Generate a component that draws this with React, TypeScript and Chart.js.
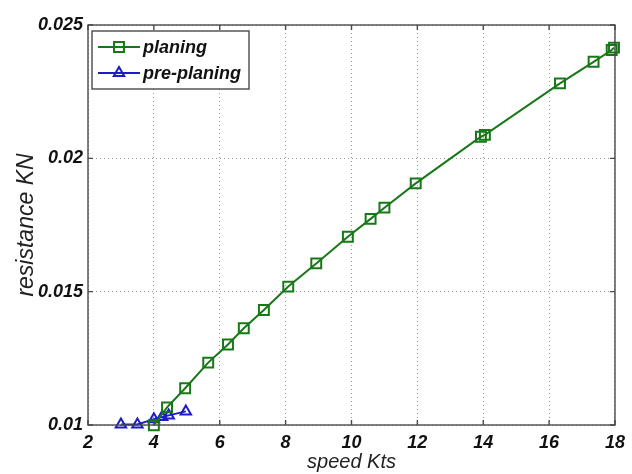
import React, { useEffect, useRef } from "react";
import { Chart, registerables } from "chart.js";

Chart.register(...registerables);

const xTicks = [2, 4, 6, 8, 10, 12, 14, 16, 18];
const yTicks = [0.01, 0.015, 0.02, 0.025];

const planingLabel = "planing";
const planingX = [4.0, 4.4, 4.95, 5.65, 6.25, 6.73, 7.34, 8.08, 8.93, 9.89, 10.58, 11.0, 11.95, 13.93, 14.05, 16.33, 17.35, 17.9, 17.97];
const planingY = [0.00999, 0.01066, 0.01138, 0.01234, 0.01302, 0.01363, 0.01431, 0.01519, 0.01606, 0.01706, 0.01773, 0.01815, 0.01906, 0.02081, 0.02088, 0.02281, 0.02362, 0.02406, 0.02415];

const prePlaningLabel = "pre-planing";
const prePlaningX = [3.0, 3.5, 4.0, 4.25, 4.45, 4.97];
const prePlaningY = [0.01002, 0.01002, 0.01022, 0.0103, 0.01036, 0.01051];

const GREEN = "#187818";
const BLUE = "#1c1cc8";
const FONT = "'Liberation Sans', Arial, sans-serif";

const framePlugin = {
  id: "matlabFrame",
  afterDraw(chart: any) {
    const { ctx, chartArea } = chart;
    const { left, right, top, bottom } = chartArea;
    ctx.save();
    ctx.strokeStyle = "#4a4a4a";
    ctx.lineWidth = 1.4;
    ctx.strokeRect(left, top, right - left, bottom - top);
    const xs = chart.scales.x;
    const ys = chart.scales.y;
    const tl = 5;
    ctx.beginPath();
    xTicks.forEach((v) => {
      const px = xs.getPixelForValue(v);
      ctx.moveTo(px, bottom);
      ctx.lineTo(px, bottom - tl);
      ctx.moveTo(px, top);
      ctx.lineTo(px, top + tl);
    });
    yTicks.forEach((v) => {
      const py = ys.getPixelForValue(v);
      ctx.moveTo(left, py);
      ctx.lineTo(left + tl, py);
      ctx.moveTo(right, py);
      ctx.lineTo(right - tl, py);
    });
    ctx.stroke();

    // legend
    const bx = left + 4;
    const by = top + 6;
    const bw = 157;
    const bh = 58;
    ctx.fillStyle = "#ffffff";
    ctx.fillRect(bx, by, bw, bh);
    ctx.strokeStyle = "#4a4a4a";
    ctx.lineWidth = 1.4;
    ctx.strokeRect(bx, by, bw, bh);
    chart.data.datasets.forEach((ds: any, i: number) => {
      const cy = by + 16 + i * 26;
      const x0 = bx + 6;
      const x1 = bx + 48;
      ctx.strokeStyle = ds.borderColor;
      ctx.lineWidth = ds.borderWidth;
      ctx.beginPath();
      ctx.moveTo(x0, cy);
      ctx.lineTo(x1, cy);
      ctx.stroke();
      ctx.lineWidth = ds.pointBorderWidth;
      const cx = (x0 + x1) / 2;
      ctx.beginPath();
      if (ds.pointStyle === "rect") {
        const s = ds.pointRadius * Math.SQRT1_2;
        ctx.rect(cx - s, cy - s, 2 * s, 2 * s);
      } else {
        const r = ds.pointRadius;
        ctx.moveTo(cx, cy - r);
        ctx.lineTo(cx + r * Math.cos(Math.PI / 6), cy + r / 2);
        ctx.lineTo(cx - r * Math.cos(Math.PI / 6), cy + r / 2);
        ctx.closePath();
      }
      ctx.stroke();
      ctx.fillStyle = "#111111";
      ctx.font = `italic bold 18px ${FONT}`;
      ctx.textBaseline = "middle";
      ctx.textAlign = "left";
      ctx.fillText(ds.label, x1 + 3, cy + 1);
    });
    ctx.restore();
  },
};

export default function App() {
  const ref = useRef<HTMLCanvasElement | null>(null);
  useEffect(() => {
    if (!ref.current) return;
    const chart = new Chart(ref.current, {
      type: "line",
      data: {
        datasets: [
          {
            label: planingLabel,
            data: planingX.map((x, i) => ({ x, y: planingY[i] })),
            borderColor: GREEN,
            borderWidth: 2,
            pointStyle: "rect",
            pointRadius: 7,
            pointBorderWidth: 2,
            pointBorderColor: GREEN,
            pointBackgroundColor: "rgba(0,0,0,0)",
            fill: false,
            tension: 0,
            clip: false as any,
          },
          {
            label: prePlaningLabel,
            data: prePlaningX.map((x, i) => ({ x, y: prePlaningY[i] })),
            borderColor: BLUE,
            borderWidth: 2,
            pointStyle: "triangle",
            pointRadius: 6,
            pointBorderWidth: 2,
            pointBorderColor: BLUE,
            pointBackgroundColor: "rgba(0,0,0,0)",
            fill: false,
            tension: 0,
            clip: false as any,
          },
        ],
      },
      options: {
        animation: false,
        responsive: false,
        maintainAspectRatio: false,
        layout: { padding: { top: 25, right: 13, left: 0, bottom: 0 } },
        plugins: {
          legend: { display: false },
          tooltip: { enabled: false },
        },
        scales: {
          x: {
            type: "linear",
            min: 2,
            max: 18,
            afterBuildTicks: (scale: any) => {
              scale.ticks = xTicks.map((v) => ({ value: v }));
            },
            afterFit: (scale: any) => {
              scale.height = 49;
            },
            grid: {
              color: "#9a9a9a",
              lineWidth: 1,
              drawTicks: false,
            },
            border: { display: false, dash: [1, 3] } as any,
            ticks: {
              padding: 7,
              color: "#111111",
              font: { family: FONT, size: 18, style: "italic", weight: "bold" },
              callback: (v: any) => String(v),
              maxRotation: 0,
            },
            title: {
              display: true,
              text: "speed Kts",
              color: "#222222",
              font: { family: FONT, size: 20, style: "italic" },
              padding: { top: 0, bottom: 0 },
            },
          },
          y: {
            type: "linear",
            min: 0.01,
            max: 0.025,
            afterBuildTicks: (scale: any) => {
              scale.ticks = yTicks.map((v) => ({ value: v }));
            },
            afterFit: (scale: any) => {
              scale.width = 88;
            },
            grid: {
              color: "#9a9a9a",
              lineWidth: 1,
              drawTicks: false,
            },
            border: { display: false, dash: [1, 3] } as any,
            ticks: {
              padding: 5,
              color: "#111111",
              font: { family: FONT, size: 18, style: "italic", weight: "bold" },
              callback: (v: any) => String(Number(v)),
            },
            title: {
              display: true,
              text: "resistance KN",
              color: "#222222",
              font: { family: FONT, size: 23, style: "italic" },
              padding: { top: 13, bottom: 0 },
            },
          },
        },
      },
      plugins: [framePlugin],
    });
    return () => chart.destroy();
  }, []);
  return (
    <div style={{ position: "fixed", left: 0, top: 0, width: 632, height: 474, background: "#fff" }}>
      <canvas ref={ref} width={632} height={474} style={{ display: "block", width: 632, height: 474 }} />
    </div>
  );
}
